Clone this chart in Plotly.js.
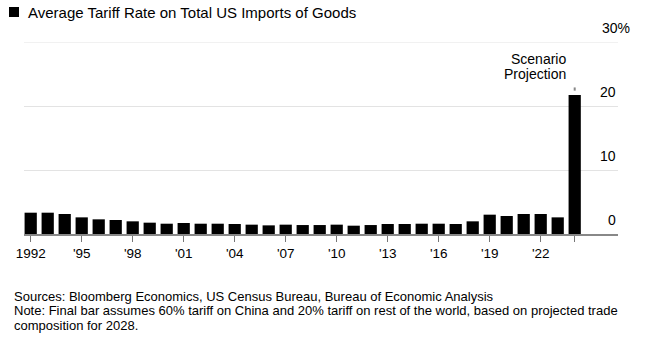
<!DOCTYPE html>
<html>
<head>
<meta charset="utf-8">
<script src="https://cdn.plot.ly/plotly-3.0.1.min.js"></script>
<style>
html,body{margin:0;padding:0;background:#fff;}
#chart{width:646px;height:355px;}
</style>
</head>
<body>
<div id="chart"></div>
<script>
// Data
const years = [1992,1993,1994,1995,1996,1997,1998,1999,2000,2001,2002,2003,2004,2005,2006,2007,2008,2009,2010,2011,2012,2013,2014,2015,2016,2017,2018,2019,2020,2021,2022,2023];
const tariffRate = [3.33,3.33,3.13,2.6,2.29,2.19,1.98,1.77,1.61,1.72,1.61,1.61,1.56,1.46,1.35,1.46,1.4,1.4,1.46,1.3,1.4,1.56,1.56,1.61,1.61,1.56,1.98,3.02,2.81,3.13,3.13,2.6];
const scenarioX = [2024];
const scenarioRate = [21.7];
const tickYears = [1992,1995,1998,2001,2004,2007,2010,2013,2016,2019,2022,2024];
const tickLabels = ["1992","'95","'98","'01","'04","'07","'10","'13","'16","'19","'22",""];
const yTicks = [0,10,20,30];
const yTickLabels = ["0","10","20","30%"];
const titleText = "Average Tariff Rate on Total US Imports of Goods";
const footerLines = [
  "Sources: Bloomberg Economics, US Census Bureau, Bureau of Economic Analysis",
  "Note: Final bar assumes 60% tariff on China and 20% tariff on rest of the world, based on projected trade",
  "composition for 2028."
];

const W = 646, H = 355;
const M = {l:24, r:28, t:42, b:121};
const pw = W - M.l - M.r, ph = H - M.t - M.b;
const px = x => (x - M.l) / pw;
const py = y => (M.t + ph - y) / ph;

const FONT = "Arial, 'Liberation Sans', sans-serif";

const traces = [
  {type:'bar', x:years, y:tariffRate, marker:{color:'#000', line:{width:0}}, width:0.72, hoverinfo:'x+y'},
  {type:'bar', x:scenarioX, y:scenarioRate, marker:{color:'#000', line:{width:0}}, width:0.72, hoverinfo:'x+y'}
];

const annotations = [];
// y labels above gridlines
yTicks.forEach((v,i)=>{
  const isPct = yTickLabels[i].endsWith('%');
  annotations.push({
    xref:'paper', yref:'y', x: isPct ? px(600) : px(618), y:v,
    xanchor: isPct ? 'left' : 'right', yanchor:'bottom', yshift:4,
    text:yTickLabels[i], showarrow:false,
    font:{family:FONT, size:14, color:'#000'}
  });
});
// Title
annotations.push({xref:'paper', yref:'paper', x:px(26), y:py(12), xanchor:'left', yanchor:'middle',
  text:titleText, showarrow:false, font:{family:FONT, size:15, color:'#000'}});
// Scenario label
annotations.push({xref:'paper', yref:'paper', x:px(568), y:py(59), xanchor:'right', yanchor:'middle',
  text:'Scenario', showarrow:false, font:{family:FONT, size:14, color:'#000'}});
annotations.push({xref:'paper', yref:'paper', x:px(568), y:py(74), xanchor:'right', yanchor:'middle',
  text:'Projection', showarrow:false, font:{family:FONT, size:14, color:'#000'}});
// Footer
footerLines.forEach((t,i)=>{
  annotations.push({xref:'paper', yref:'paper', x:px(12), y:py(296 + i*14.5), xanchor:'left', yanchor:'middle',
    text:t, showarrow:false, font:{family:FONT, size:13, color:'#000'}});
});

const shapes = [
  // legend square
  {type:'rect', xref:'paper', yref:'paper', x0:px(9), x1:px(19), y0:py(17), y1:py(7), fillcolor:'#000', line:{width:0}},
  // top gridline (edge gridline is culled by plotly)
  {type:'line', xref:'paper', yref:'y', x0:0, x1:1, y0:yTicks[yTicks.length-1], y1:yTicks[yTicks.length-1], line:{color:'#e3e3e3', width:1}, layer:'below'},
  // small marker above scenario bar
  {type:'line', xref:'x', yref:'y', x0:scenarioX[0], x1:scenarioX[0], y0:scenarioRate[0]+0.7, y1:scenarioRate[0]+1.2, line:{color:'#888', width:2}}
];

const layout = {
  width:W, height:H,
  margin:M,
  paper_bgcolor:'#fff', plot_bgcolor:'#fff',
  showlegend:false,
  bargap:0.3,
  xaxis:{
    range:[1991.606, 2026.547], tickmode:'array', tickvals:tickYears, ticktext:tickLabels,
    ticks:'outside', ticklen:6, tickcolor:'#777', tickwidth:1,
    showline:true, linecolor:'#888', linewidth:1.5,
    showgrid:false, zeroline:false,
    tickfont:{family:FONT, size:13.5, color:'#000'}
  },
  yaxis:{
    range:[0,30], tickvals:yTicks, showticklabels:false,
    showgrid:true, gridcolor:'#e3e3e3', gridwidth:1,
    zeroline:false, fixedrange:true
  },
  annotations, shapes
};

Plotly.newPlot('chart', traces, layout, {displayModeBar:false, staticPlot:true});
</script>
</body>
</html>
